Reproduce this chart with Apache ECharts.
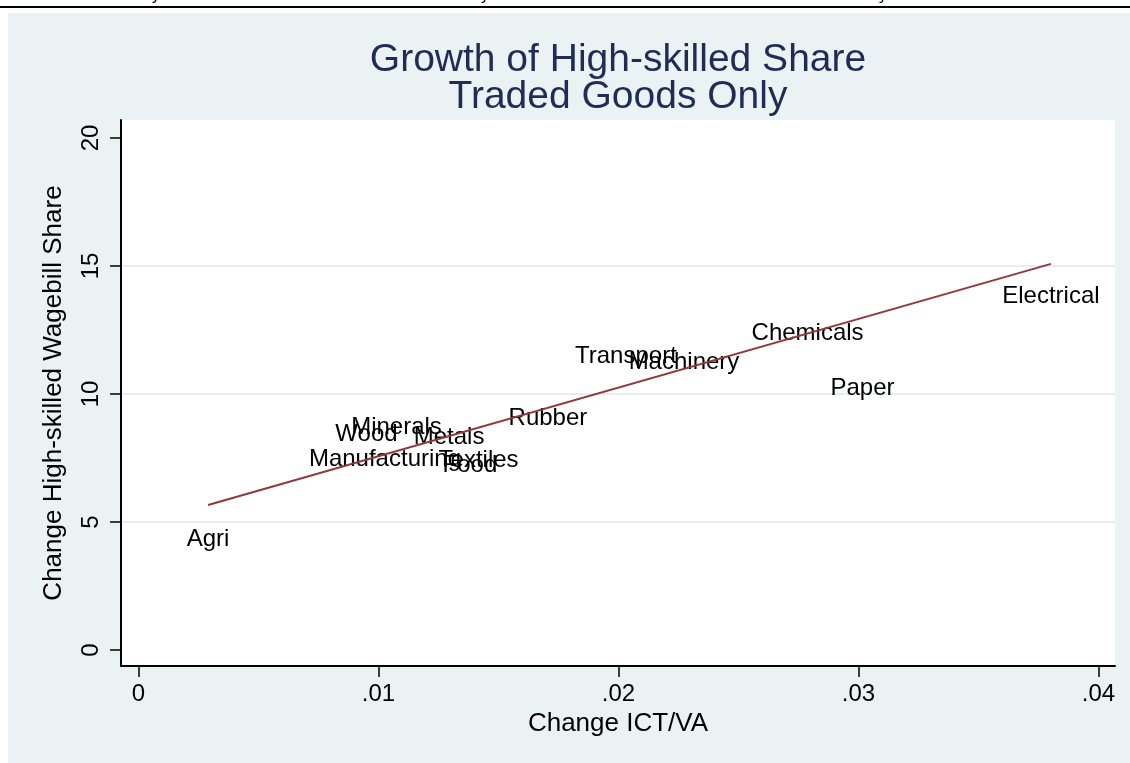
<!DOCTYPE html>
<html>
<head>
<meta charset="utf-8">
<script src="https://cdn.jsdelivr.net/npm/echarts@6/dist/echarts.min.js"></script>
<style>
  html, body { margin: 0; padding: 0; background: #ffffff; }
  #chart { width: 1130px; height: 763px; }
</style>
</head>
<body>
<div id="chart"></div>
<script>
// ---- data ----
const industries = ["Agri", "Manufacturing", "Wood", "Minerals", "Metals", "Food", "Textiles",
                    "Rubber", "Transport", "Machinery", "Chemicals", "Paper", "Electrical"];
const ictChange  = [0.0029, 0.01027, 0.0095, 0.01075, 0.01294, 0.01381, 0.01417,
                    0.01706, 0.02031, 0.02273, 0.02788, 0.03017, 0.03802];
const skillShareChange = [4.34, 7.44, 8.42, 8.69, 8.30, 7.23, 7.40,
                          9.04, 11.46, 11.23, 12.36, 10.21, 13.83];
const fitX = [0.0029, 0.03802];
const fitY = [5.66, 15.08];
const xTicks = [0, 0.01, 0.02, 0.03, 0.04];
const xTickLabels = ["0", ".01", ".02", ".03", ".04"];
const yTicks = [0, 5, 10, 15, 20];
const yGrid = [5, 10, 15];

const FONT = "'Liberation Sans', Arial, Helvetica, sans-serif";

const chart = echarts.init(document.getElementById('chart'), null, { renderer: 'canvas' });

const scatterData = industries.map((n, i) => ({ name: n, value: [ictChange[i], skillShareChange[i]] }));
const fitData = fitX.map((x, i) => [x, fitY[i]]);

chart.setOption({
  animation: false,
  backgroundColor: '#ffffff',
  graphic: [
    { type: 'rect', z: -10, shape: { x: 0, y: 6, width: 1130, height: 2 }, style: { fill: '#000000' } },
    { type: 'rect', z: -10, shape: { x: 8, y: 13, width: 1122, height: 750 }, style: { fill: '#eaf2f3' } },
    { type: 'text', z: -10, x: 152, y: 4, style: { text: 'y', fontSize: 16, fontFamily: FONT, fill: '#000', verticalAlign: 'bottom' } },
    { type: 'text', z: -10, x: 481, y: 4, style: { text: 'y', fontSize: 16, fontFamily: FONT, fill: '#000', verticalAlign: 'bottom' } },
    { type: 'text', z: -10, x: 879, y: 4, style: { text: 'y', fontSize: 16, fontFamily: FONT, fill: '#000', verticalAlign: 'bottom' } }
  ],
  title: {
    text: 'Growth of High-skilled Share\nTraded Goods Only',
    left: 613,
    textAlign: 'center',
    top: 37,
    textStyle: { fontFamily: FONT, fontSize: 39, fontWeight: 'normal', color: '#1f2d56', lineHeight: 37 }
  },
  grid: {
    left: 121, right: 15, top: 120, bottom: 97,
    show: true, backgroundColor: '#ffffff', borderWidth: 0
  },
  xAxis: {
    type: 'value',
    min: -0.000729,
    max: 0.04069,
    name: 'Change ICT/VA',
    nameLocation: 'middle',
    nameGap: 37,
    nameTextStyle: { fontFamily: FONT, fontSize: 26, color: '#000' },
    axisLine: { show: true, onZero: false, lineStyle: { color: '#000', width: 2 } },
    axisTick: { show: true, customValues: xTicks, length: 11, lineStyle: { color: '#000', width: 1.5 } },
    axisLabel: {
      customValues: xTicks,
      margin: 16,
      fontFamily: FONT, fontSize: 24, color: '#000',
      formatter: v => { const i = xTicks.findIndex(t => Math.abs(t - v) < 1e-9); return i >= 0 ? xTickLabels[i] : ''; }
    },
    splitLine: { show: false }
  },
  yAxis: {
    type: 'value',
    min: -0.625,
    max: 20.70,
    name: 'Change High-skilled Wagebill Share',
    nameLocation: 'middle',
    nameGap: 54,
    nameRotate: 90,
    nameTextStyle: { fontFamily: FONT, fontSize: 26, color: '#000' },
    axisLine: { show: true, onZero: false, lineStyle: { color: '#000', width: 2 } },
    axisTick: { show: true, customValues: yTicks, length: 11, lineStyle: { color: '#000', width: 1.5 } },
    axisLabel: {
      customValues: yTicks,
      rotate: 90,
      margin: 18,
      fontFamily: FONT, fontSize: 24, color: '#000'
    },
    splitLine: { show: false }
  },
  series: [
    {
      type: 'line',
      z: 0,
      data: [],
      silent: true,
      markLine: {
        z: 0,
        silent: true,
        symbol: 'none',
        label: { show: false },
        lineStyle: { color: '#e6eef1', width: 2, type: 'solid' },
        data: yGrid.map(v => ({ yAxis: v }))
      }
    },
    {
      type: 'scatter',
      z: 2,
      symbol: 'circle',
      symbolSize: 0,
      itemStyle: { color: '#000000', opacity: 1 },
      data: scatterData,
      label: {
        show: true,
        position: 'inside',
        formatter: p => p.name,
        fontFamily: FONT, fontSize: 24, color: '#000000', opacity: 1,
        textBorderWidth: 0
      },
      emphasis: { disabled: true },
      labelLayout: { hideOverlap: false }
    },
    {
      type: 'line',
      z: 5,
      data: fitData,
      showSymbol: false,
      symbol: 'none',
      lineStyle: { color: '#93373d', width: 2 },
      itemStyle: { color: '#93373d' }
    }
  ]
});
</script>
</body>
</html>
